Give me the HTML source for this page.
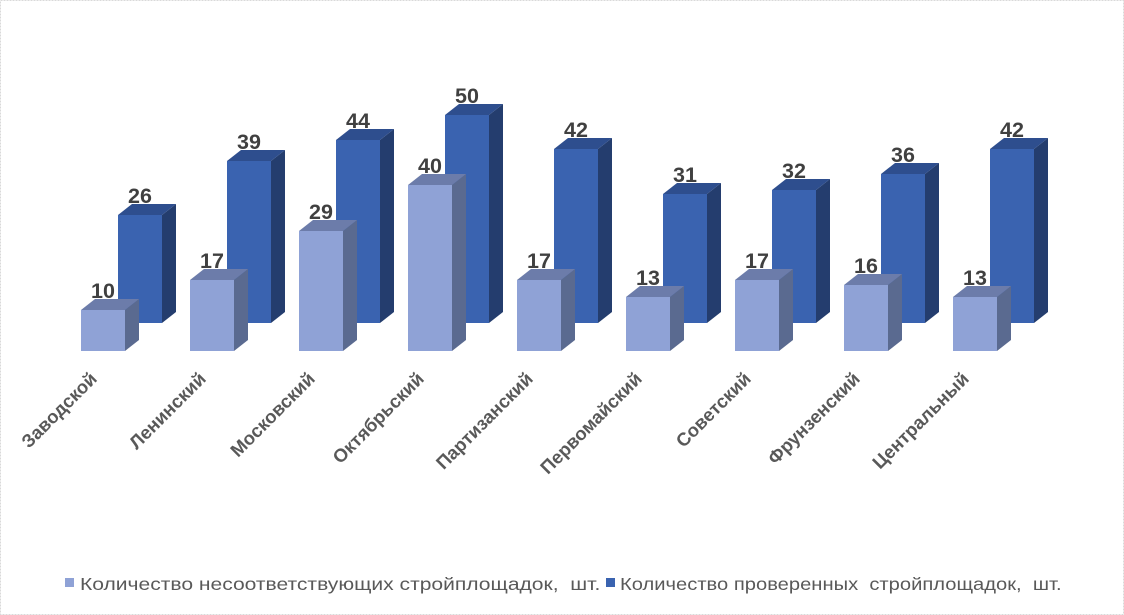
<!DOCTYPE html><html><head><meta charset="utf-8"><style>
body{margin:0;background:#fff}
svg{display:block;font-family:"Liberation Sans",sans-serif}
.lf{fill:#8FA2D6}.ls{fill:#5A6A90}.lt{fill:#6C7CAA}
.df{fill:#3A63B0}.ds{fill:#243D6E}.dt{fill:#2E4E8E}
.v{font-size:21.5px;font-weight:bold;fill:#404040;text-anchor:middle}
.c{font-size:18.5px;font-weight:bold;fill:#595959;text-anchor:end}
.l{font-size:18px;fill:#595959}
</style></head><body>
<svg width="1124" height="615" viewBox="0 0 1124 615">
<rect x="0.5" y="0.5" width="1123" height="614" fill="#fff" stroke="#d9d9d9" stroke-dasharray="2,1"/>
<g transform="translate(118,215)"><rect width="44" height="108" class="df"/><polygon points="44,0 58,-11 58,97 44,108" class="ds"/><polygon points="0,0 14,-11 58,-11 44,0" class="dt"/><text x="22" y="-12" class="v">26</text></g>
<g transform="translate(227,161)"><rect width="44" height="162" class="df"/><polygon points="44,0 58,-11 58,151 44,162" class="ds"/><polygon points="0,0 14,-11 58,-11 44,0" class="dt"/><text x="22" y="-12" class="v">39</text></g>
<g transform="translate(336,140)"><rect width="44" height="183" class="df"/><polygon points="44,0 58,-11 58,172 44,183" class="ds"/><polygon points="0,0 14,-11 58,-11 44,0" class="dt"/><text x="22" y="-12" class="v">44</text></g>
<g transform="translate(445,115)"><rect width="44" height="208" class="df"/><polygon points="44,0 58,-11 58,197 44,208" class="ds"/><polygon points="0,0 14,-11 58,-11 44,0" class="dt"/><text x="22" y="-12" class="v">50</text></g>
<g transform="translate(554,149)"><rect width="44" height="174" class="df"/><polygon points="44,0 58,-11 58,163 44,174" class="ds"/><polygon points="0,0 14,-11 58,-11 44,0" class="dt"/><text x="22" y="-12" class="v">42</text></g>
<g transform="translate(663,194)"><rect width="44" height="129" class="df"/><polygon points="44,0 58,-11 58,118 44,129" class="ds"/><polygon points="0,0 14,-11 58,-11 44,0" class="dt"/><text x="22" y="-12" class="v">31</text></g>
<g transform="translate(772,190)"><rect width="44" height="133" class="df"/><polygon points="44,0 58,-11 58,122 44,133" class="ds"/><polygon points="0,0 14,-11 58,-11 44,0" class="dt"/><text x="22" y="-12" class="v">32</text></g>
<g transform="translate(881,174)"><rect width="44" height="149" class="df"/><polygon points="44,0 58,-11 58,138 44,149" class="ds"/><polygon points="0,0 14,-11 58,-11 44,0" class="dt"/><text x="22" y="-12" class="v">36</text></g>
<g transform="translate(990,149)"><rect width="44" height="174" class="df"/><polygon points="44,0 58,-11 58,163 44,174" class="ds"/><polygon points="0,0 14,-11 58,-11 44,0" class="dt"/><text x="22" y="-12" class="v">42</text></g>
<g transform="translate(81,310)"><rect width="44" height="41" class="lf"/><polygon points="44,0 58,-11 58,30 44,41" class="ls"/><polygon points="0,0 14,-11 58,-11 44,0" class="lt"/><text x="22" y="-12" class="v">10</text></g>
<g transform="translate(190,280)"><rect width="44" height="71" class="lf"/><polygon points="44,0 58,-11 58,60 44,71" class="ls"/><polygon points="0,0 14,-11 58,-11 44,0" class="lt"/><text x="22" y="-12" class="v">17</text></g>
<g transform="translate(299,231)"><rect width="44" height="120" class="lf"/><polygon points="44,0 58,-11 58,109 44,120" class="ls"/><polygon points="0,0 14,-11 58,-11 44,0" class="lt"/><text x="22" y="-12" class="v">29</text></g>
<g transform="translate(408,185)"><rect width="44" height="166" class="lf"/><polygon points="44,0 58,-11 58,155 44,166" class="ls"/><polygon points="0,0 14,-11 58,-11 44,0" class="lt"/><text x="22" y="-12" class="v">40</text></g>
<g transform="translate(517,280)"><rect width="44" height="71" class="lf"/><polygon points="44,0 58,-11 58,60 44,71" class="ls"/><polygon points="0,0 14,-11 58,-11 44,0" class="lt"/><text x="22" y="-12" class="v">17</text></g>
<g transform="translate(626,297)"><rect width="44" height="54" class="lf"/><polygon points="44,0 58,-11 58,43 44,54" class="ls"/><polygon points="0,0 14,-11 58,-11 44,0" class="lt"/><text x="22" y="-12" class="v">13</text></g>
<g transform="translate(735,280)"><rect width="44" height="71" class="lf"/><polygon points="44,0 58,-11 58,60 44,71" class="ls"/><polygon points="0,0 14,-11 58,-11 44,0" class="lt"/><text x="22" y="-12" class="v">17</text></g>
<g transform="translate(844,285)"><rect width="44" height="66" class="lf"/><polygon points="44,0 58,-11 58,55 44,66" class="ls"/><polygon points="0,0 14,-11 58,-11 44,0" class="lt"/><text x="22" y="-12" class="v">16</text></g>
<g transform="translate(953,297)"><rect width="44" height="54" class="lf"/><polygon points="44,0 58,-11 58,43 44,54" class="ls"/><polygon points="0,0 14,-11 58,-11 44,0" class="lt"/><text x="22" y="-12" class="v">13</text></g>
<text class="c" transform="translate(98,380) rotate(-45)">Заводской</text>
<text class="c" transform="translate(207,380) rotate(-45)">Ленинский</text>
<text class="c" transform="translate(316,380) rotate(-45)">Московский</text>
<text class="c" transform="translate(425,380) rotate(-45)">Октябрьский</text>
<text class="c" transform="translate(534,380) rotate(-45)">Партизанский</text>
<text class="c" transform="translate(643,380) rotate(-45)">Первомайский</text>
<text class="c" transform="translate(752,380) rotate(-45)">Советский</text>
<text class="c" transform="translate(861,380) rotate(-45)">Фрунзенский</text>
<text class="c" transform="translate(970,380) rotate(-45)">Центральный</text>
<rect x="65" y="578" width="9" height="9" fill="#8FA2D6"/>
<text class="l" transform="translate(80,590) scale(1.17,1)" xml:space="preserve">Количество несоответствующих стройплощадок,  шт.</text>
<rect x="606" y="578" width="9" height="9" fill="#3A63B0"/>
<text class="l" transform="translate(620,590) scale(1.12,1)" xml:space="preserve">Количество проверенных  стройплощадок,  шт.</text>
</svg>
</body></html>
